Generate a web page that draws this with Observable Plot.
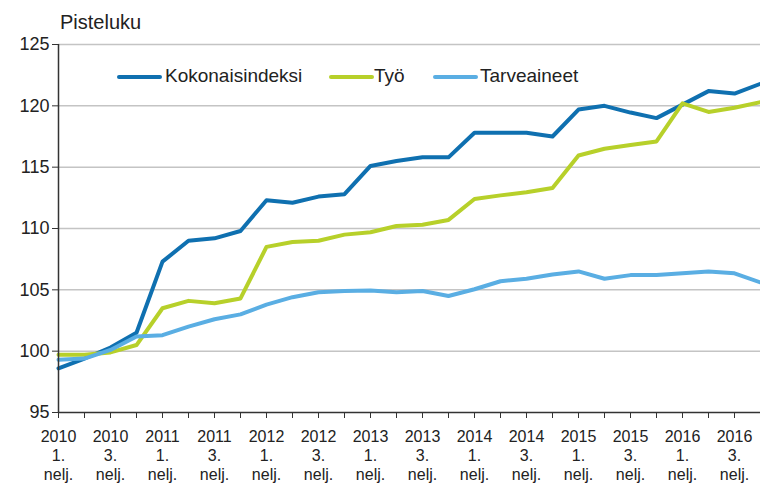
<!DOCTYPE html>
<html>
<head>
<meta charset="utf-8">
<script src="https://cdn.jsdelivr.net/npm/d3@7"></script>
<script src="https://cdn.jsdelivr.net/npm/@observablehq/plot@0.6"></script>
<style>
  html, body { margin: 0; padding: 0; background: #fff; }
  #wrap { position: relative; width: 760px; height: 483px; font-family: "Liberation Sans", Arial, sans-serif; color: #222; }
  #wrap svg { position: absolute; left: 0; top: 0; }
  .ov { position: absolute; line-height: 1; white-space: nowrap; }
  .sw { position: absolute; height: 4px; width: 45px; border-radius: 2px; }
</style>
</head>
<body>
<div id="wrap"></div>
<script>
const periods = [
  "2010 1.", "2010 2.", "2010 3.", "2010 4.",
  "2011 1.", "2011 2.", "2011 3.", "2011 4.",
  "2012 1.", "2012 2.", "2012 3.", "2012 4.",
  "2013 1.", "2013 2.", "2013 3.", "2013 4.",
  "2014 1.", "2014 2.", "2014 3.", "2014 4.",
  "2015 1.", "2015 2.", "2015 3.", "2015 4.",
  "2016 1.", "2016 2.", "2016 3.", "2016 4."
];
const seriesNames = ["Kokonaisindeksi", "Työ", "Tarveaineet"];
const seriesColors = ["#0f70b0", "#b7d02a", "#5aaee3"];

const kokonaisindeksi = [98.6, 99.4, 100.3, 101.5, 107.3, 109.0, 109.2, 109.8,
  112.3, 112.1, 112.6, 112.8, 115.1, 115.5, 115.8, 115.8,
  117.8, 117.8, 117.8, 117.5, 119.7, 120.0, 119.45, 119.0,
  120.1, 121.2, 121.0, 121.8];
const tyo = [99.7, 99.7, 99.9, 100.5, 103.5, 104.1, 103.9, 104.3,
  108.5, 108.9, 109.0, 109.5, 109.7, 110.2, 110.3, 110.7,
  112.4, 112.7, 112.95, 113.3, 115.95, 116.5, 116.8, 117.1,
  120.2, 119.5, 119.85, 120.3];
const tarveaineet = [99.3, 99.4, 100.1, 101.2, 101.3, 102.0, 102.6, 103.0,
  103.8, 104.4, 104.8, 104.9, 104.95, 104.8, 104.9, 104.5,
  105.05, 105.7, 105.9, 106.25, 106.5, 105.9, 106.2, 106.2,
  106.35, 106.5, 106.35, 105.6];

const yTicks = [95, 100, 105, 110, 115, 120, 125];
const labelPeriods = periods.filter((p, i) => i % 2 === 0);
const tickLabel = p => p.replace(" ", "\n") + "\nnelj.";

const allSeries = [kokonaisindeksi, tyo, tarveaineet];
const data = seriesNames.flatMap((s, k) =>
  periods.map((p, i) => ({series: s, period: p, value: allSeries[k][i]})));

const chart = Plot.plot({
  width: 760,
  height: 483,
  marginLeft: 58,
  marginRight: 0,
  marginTop: 44,
  marginBottom: 71,
  x: {type: "point", domain: periods, padding: 0},
  y: {domain: [95, 125]},
  color: {domain: seriesNames, range: seriesColors},
  style: {fontFamily: "'Liberation Sans', Arial, sans-serif", color: "#222", background: "#fff", overflow: "visible"},
  marks: [
    Plot.gridY(yTicks.filter(t => t > 95), {stroke: "#c4c4c4", strokeOpacity: 1, strokeWidth: 1.5}),
    Plot.lineY(data, {x: "period", y: "value", z: "series", stroke: "series", strokeWidth: 4, strokeLinejoin: "round"}),
    Plot.ruleX([periods[0]], {stroke: "#333", strokeWidth: 1.5}),
    Plot.ruleY([95], {stroke: "#333", strokeWidth: 1.5}),
    Plot.axisY(yTicks, {tickSize: 6, tickPadding: 3, fontSize: 18, label: null, stroke: "#333"}),
    Plot.axisX(periods, {tickSize: 6, tickFormat: () => "", label: null, stroke: "#333"}),
    Plot.axisX(labelPeriods, {tickSize: 0, tickPadding: 16, tickFormat: tickLabel, fontSize: 16, lineHeight: 1.19, label: null})
  ]
});

const wrap = document.getElementById("wrap");
wrap.appendChild(chart);

function addText(txt, left, top, size) {
  const d = document.createElement("div");
  d.className = "ov";
  d.textContent = txt;
  d.style.left = left + "px";
  d.style.top = top + "px";
  d.style.fontSize = size + "px";
  wrap.appendChild(d);
}
function addSwatch(color, left, top) {
  const d = document.createElement("div");
  d.className = "sw";
  d.style.left = left + "px";
  d.style.top = top + "px";
  d.style.background = color;
  wrap.appendChild(d);
}

addText("Pisteluku", 60, 12, 20);

const legendX = [[117, 165], [329, 374], [433, 480]];
seriesNames.forEach((s, i) => {
  addSwatch(seriesColors[i], legendX[i][0], 75);
  addText(s, legendX[i][1], 66, 19);
});
</script>
</body>
</html>
